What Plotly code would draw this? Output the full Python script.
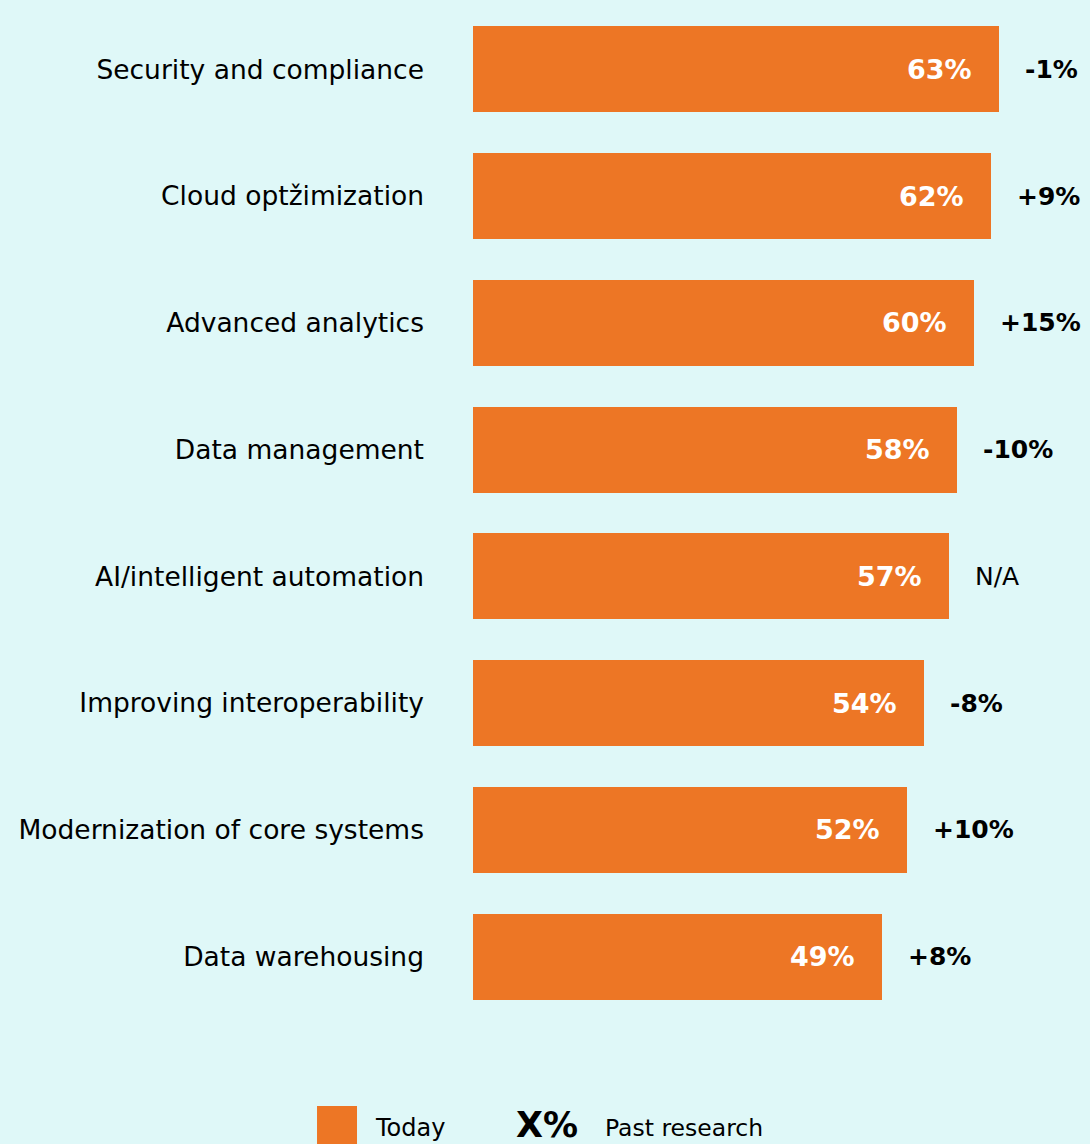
import plotly.graph_objects as go

# Priorities and share of respondents (today) plus change vs past research
categories = [
    "Security and compliance",
    "Cloud optžimization",
    "Advanced analytics",
    "Data management",
    "AI/intelligent automation",
    "Improving interoperability",
    "Modernization of core systems",
    "Data warehousing",
]
today = [63, 62, 60, 58, 57, 54, 52, 49]
change = ["-1%", "+9%", "+15%", "-10%", "N/A", "-8%", "+10%", "+8%"]

ORANGE = "#ED7625"
BG = "#DFF8F8"
FONT = "DejaVu Sans"

fig = go.Figure(go.Bar(
    y=categories,
    x=today,
    orientation="h",
    marker=dict(color=ORANGE, line_width=0),
    width=0.68,
    hoverinfo="skip",
))

# value labels inside bars
for c, v in zip(categories, today):
    fig.add_annotation(x=v, y=c, text=f"<b>{v}%</b>", showarrow=False,
                       xanchor="right", xshift=-25,
                       font=dict(family=FONT, size=27, color="white"))

# change vs past research
for c, v, d in zip(categories, today, change):
    txt = d if d == "N/A" else f"<b>{d}</b>"
    fig.add_annotation(x=v, y=c, text=txt, showarrow=False,
                       xanchor="left", xshift=24,
                       font=dict(family=FONT, size=25, color="black"))

# custom legend
fig.add_shape(type="rect", xref="paper", yref="paper",
              x0=-0.2528, x1=-0.188, y0=-0.135, y1=-0.0848,
              fillcolor=ORANGE, line_width=0)
fig.add_annotation(xref="paper", yref="paper", x=-0.162, y=-0.122,
                   text="Today", showarrow=False, xanchor="left",
                   font=dict(family=FONT, size=24, color="black"))
fig.add_annotation(xref="paper", yref="paper", x=0.066, y=-0.125,
                   text="<b>X%</b>", showarrow=False, xanchor="left",
                   font=dict(family=FONT, size=35, color="black"))
fig.add_annotation(xref="paper", yref="paper", x=0.211, y=-0.122,
                   text="Past research", showarrow=False, xanchor="left",
                   font=dict(family=FONT, size=23.5, color="black"))

fig.update_layout(
    width=1090, height=1144,
    margin=dict(l=473, r=0, t=6, b=124),
    paper_bgcolor=BG, plot_bgcolor=BG,
    showlegend=False,
    bargap=0,
    xaxis=dict(range=[0, 73.9], visible=False),
    yaxis=dict(autorange="reversed", showgrid=False, zeroline=False,
               showline=False, ticks="", ticklabelstandoff=48,
               tickfont=dict(family=FONT, size=26.5, color="black")),
)

fig.write_html("out.html", config={"displayModeBar": False},
               post_script="document.body.style.margin='0';")
